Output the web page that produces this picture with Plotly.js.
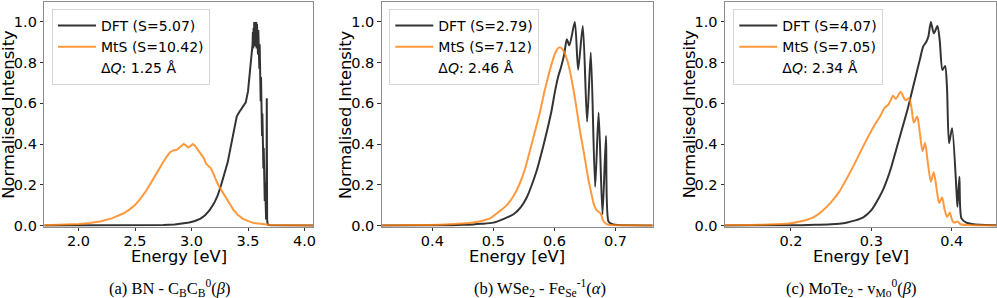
<!DOCTYPE html>
<html>
<head>
<meta charset="utf-8">
<script src="https://cdn.plot.ly/plotly-3.0.1.min.js"></script>
<style>html,body{margin:0;padding:0;background:#fff;}#chart{width:997px;height:298px;}</style>
</head>
<body>
<div id="chart"></div>
<script>
// ---------- Panel (a): BN - CBCB0(beta) ----------
const aDftEnergy = [1.697, 2.4, 2.6, 2.75, 2.85, 2.92, 2.98, 3.03, 3.08, 3.12, 3.16, 3.2, 3.23, 3.26, 3.29, 3.32, 3.35, 3.38, 3.4, 3.42, 3.44, 3.46, 3.48, 3.5, 3.51, 3.52, 3.53,
  3.54, 3.543, 3.546, 3.549, 3.552, 3.555, 3.558, 3.561, 3.564, 3.567, 3.57, 3.573, 3.576, 3.579, 3.582, 3.585, 3.588, 3.591, 3.594, 3.597,
  3.6, 3.603, 3.606, 3.609, 3.612, 3.615, 3.618, 3.621, 3.624, 3.627, 3.63, 3.633, 3.636, 3.639, 3.642, 3.645, 3.648, 3.651, 3.654, 3.657,
  3.66, 3.663, 3.666, 3.669, 3.673, 3.68, 3.7, 4.075];
const aDftIntensity = [0, 0.0005, 0.001, 0.002, 0.005, 0.009, 0.015, 0.022, 0.034, 0.05, 0.075, 0.11, 0.145, 0.195, 0.25, 0.31, 0.395, 0.49, 0.535, 0.555, 0.57, 0.585, 0.605, 0.66, 0.71, 0.77, 0.83,
  0.89, 0.95, 0.87, 0.97, 0.9, 1.0, 0.89, 1.0, 0.88, 0.99, 0.87, 1.0, 0.87, 0.99, 0.86, 0.98, 0.84, 0.96, 0.81, 0.93,
  0.77, 0.89, 0.7, 0.82, 0.61, 0.73, 0.52, 0.64, 0.44, 0.55, 0.36, 0.47, 0.28, 0.38, 0.2, 0.3, 0.12, 0.21, 0.06, 0.13,
  0.03, 0.07, 0.625, 0.03, 0.008, 0.003, 0.001, 0];
const aMtsEnergy = [1.697, 1.8, 1.9, 2.0, 2.1, 2.2, 2.3, 2.4, 2.45, 2.5, 2.55, 2.6, 2.65, 2.7, 2.75, 2.78, 2.81, 2.84, 2.87, 2.9, 2.93, 2.95, 2.97, 2.99, 3.01, 3.03, 3.05, 3.07, 3.09, 3.11, 3.13, 3.15, 3.17, 3.19, 3.21, 3.23, 3.25, 3.27, 3.29, 3.31, 3.33, 3.35, 3.37, 3.39, 3.41, 3.43, 3.45, 3.47, 3.49, 3.52, 3.55, 3.58, 3.61, 3.64, 3.7, 4.075];
const aMtsIntensity = [0.001, 0.002, 0.004, 0.007, 0.012, 0.021, 0.036, 0.06, 0.078, 0.1, 0.133, 0.172, 0.218, 0.268, 0.312, 0.338, 0.36, 0.369, 0.372, 0.386, 0.4, 0.394, 0.383, 0.39, 0.4, 0.392, 0.376, 0.362, 0.35, 0.33, 0.302, 0.29, 0.282, 0.26, 0.232, 0.206, 0.186, 0.168, 0.146, 0.126, 0.112, 0.09, 0.078, 0.065, 0.051, 0.044, 0.034, 0.029, 0.023, 0.018, 0.012, 0.01, 0.006, 0.004, 0.002, 0];

// ---------- Panel (b): WSe2 - FeSe-1(alpha) ----------
const bDftEnergy = [0.317, 0.42, 0.45, 0.467, 0.48, 0.5, 0.515, 0.533, 0.545, 0.555, 0.563, 0.571, 0.58, 0.5875, 0.595, 0.601, 0.606, 0.611, 0.616, 0.6203, 0.6245, 0.6334, 0.6388, 0.6465, 0.6535, 0.6596, 0.6667, 0.6724, 0.6787, 0.6845, 0.6885, 0.694, 0.7, 0.72, 0.761];
const bDftIntensity = [0, 0.001, 0.003, 0.005, 0.008, 0.014, 0.03, 0.055, 0.09, 0.14, 0.2, 0.27, 0.37, 0.46, 0.56, 0.66, 0.73, 0.78, 0.84, 0.915, 0.885, 1.0, 0.765, 0.98, 0.51, 0.85, 0.19, 0.555, 0.055, 0.44, 0.02, 0.008, 0.004, 0.001, 0];
const bMtsEnergy = [0.317, 0.38, 0.42, 0.45, 0.467, 0.48, 0.4945, 0.51, 0.522, 0.533, 0.5437, 0.552, 0.56, 0.568, 0.5765, 0.583, 0.59, 0.596, 0.601, 0.6055, 0.609, 0.6147, 0.619, 0.623, 0.627, 0.631, 0.635, 0.639, 0.643, 0.6475, 0.6515, 0.6557, 0.66, 0.664, 0.668, 0.672, 0.676, 0.679, 0.682, 0.686, 0.692, 0.72, 0.761];
const bMtsIntensity = [0, 0.002, 0.005, 0.01, 0.015, 0.022, 0.035, 0.07, 0.1, 0.145, 0.21, 0.28, 0.37, 0.46, 0.56, 0.65, 0.735, 0.8, 0.845, 0.87, 0.876, 0.86, 0.83, 0.79, 0.735, 0.67, 0.6, 0.52, 0.445, 0.37, 0.3, 0.225, 0.165, 0.11, 0.08, 0.068, 0.058, 0.03, 0.015, 0.006, 0.002, 0.001, 0];

// ---------- Panel (c): MoTe2 - vMo0(beta) ----------
const cDftEnergy = [0.118, 0.2, 0.23, 0.25, 0.26, 0.27, 0.28, 0.29, 0.3, 0.31, 0.315, 0.32, 0.325, 0.33, 0.335, 0.34, 0.345, 0.35, 0.355, 0.36, 0.3645, 0.368, 0.371, 0.374, 0.3777, 0.3822, 0.385, 0.3884, 0.3917, 0.394, 0.3966, 0.4004, 0.4058, 0.4071, 0.4095, 0.412, 0.418, 0.425, 0.435, 0.455];
const cDftIntensity = [0, 0.001, 0.003, 0.006, 0.009, 0.015, 0.025, 0.04, 0.075, 0.14, 0.18, 0.23, 0.29, 0.36, 0.43, 0.5, 0.57, 0.65, 0.73, 0.81, 0.88, 0.9, 0.93, 1.0, 0.944, 0.98, 0.91, 0.764, 0.784, 0.682, 0.404, 0.478, 0.174, 0.092, 0.24, 0.035, 0.014, 0.007, 0.003, 0.001];
const cMtsEnergy = [0.118, 0.16, 0.18, 0.2, 0.21, 0.22, 0.23, 0.24, 0.25, 0.26, 0.27, 0.28, 0.29, 0.3, 0.305, 0.31, 0.3168, 0.3209, 0.324, 0.327, 0.3304, 0.3335, 0.3365, 0.3395, 0.3425, 0.347, 0.35, 0.3528, 0.357, 0.3603, 0.3636, 0.3668, 0.3705, 0.374, 0.3776, 0.381, 0.3843, 0.388, 0.391, 0.3942, 0.3975, 0.4003, 0.403, 0.407, 0.411, 0.42, 0.455];
const cMtsIntensity = [0.001, 0.003, 0.006, 0.011, 0.018, 0.028, 0.045, 0.075, 0.115, 0.165, 0.235, 0.31, 0.39, 0.465, 0.5, 0.53, 0.58, 0.592, 0.615, 0.638, 0.622, 0.64, 0.657, 0.635, 0.615, 0.625, 0.575, 0.505, 0.535, 0.455, 0.365, 0.405, 0.3, 0.215, 0.262, 0.185, 0.11, 0.138, 0.08, 0.042, 0.062, 0.028, 0.013, 0.02, 0.006, 0.002, 0];

// ---------- Labels ----------
const dftNames = ['DFT (S=5.07)', 'DFT (S=2.79)', 'DFT (S=4.07)'];
const mtsNames = ['MtS (S=10.42)', 'MtS (S=7.12)', 'MtS (S=7.05)'];
const deltaQ = ['Δ<i>Q</i>: 1.25 Å', 'Δ<i>Q</i>: 2.46 Å', 'Δ<i>Q</i>: 2.34 Å'];
const captions = ['(a) BN - C<sub>B</sub>C<sub>B</sub><sup>0</sup>(<i>β</i>)',
                  '(b) WSe<sub>2</sub> - Fe<sub>Se</sub><sup>-1</sup>(<i>α</i>)',
                  '(c) MoTe<sub>2</sub> - v<sub>Mo</sub><sup>0</sup>(<i>β</i>)'];
const xRanges = [[1.697, 4.075], [0.317, 0.761], [0.118, 0.455]];
const xDticks = [0.5, 0.1, 0.1];
const yTitle = 'Normalised Intensity';
const xTitle = 'Energy [eV]';

const W = 997, H = 298;
const DFT_COLOR = 'rgba(0,0,0,0.8)';
const MTS_COLOR = 'rgba(255,127,14,0.8)';
const FONT = 'DejaVu Sans, sans-serif';

const panelPx = [[44.3, 313], [381.7, 652.7], [725, 996]];
const topPx = 2, botPx = 226.7;
const legendLeftPx = [52, 389.3, 733.3];
const captionRightPx = [233, 608, 918];

const data = [
  {x: aDftEnergy, y: aDftIntensity}, {x: aMtsEnergy, y: aMtsIntensity},
  {x: bDftEnergy, y: bDftIntensity}, {x: bMtsEnergy, y: bMtsIntensity},
  {x: cDftEnergy, y: cDftIntensity}, {x: cMtsEnergy, y: cMtsIntensity}
];

const traces = [];
const layout = {
  width: W, height: H,
  margin: {l: 0, r: 0, t: 0, b: 0},
  paper_bgcolor: '#ffffff', plot_bgcolor: '#ffffff',
  font: {family: FONT, size: 14.3, color: '#000'},
  showlegend: true,
  annotations: []
};

for (let i = 0; i < 3; i++) {
  const sfx = i === 0 ? '' : String(i + 1);
  const xa = 'x' + sfx, ya = 'y' + sfx;
  const leg = 'legend' + sfx;
  const shp = i === 0 ? 'linear' : 'spline';
  traces.push({x: data[2*i].x, y: data[2*i].y, xaxis: xa, yaxis: ya, legend: leg, type: 'scatter', mode: 'lines',
               name: dftNames[i], line: {color: DFT_COLOR, width: 2, shape: shp, smoothing: 0.7}});
  traces.push({x: data[2*i+1].x, y: data[2*i+1].y, xaxis: xa, yaxis: ya, legend: leg, type: 'scatter', mode: 'lines',
               name: mtsNames[i], line: {color: MTS_COLOR, width: 2, shape: shp, smoothing: 0.7}});
  traces.push({x: [null], y: [null], xaxis: xa, yaxis: ya, legend: leg, type: 'scatter', mode: 'lines',
               name: deltaQ[i], line: {color: 'rgba(0,0,0,0)', width: 0}, hoverinfo: 'skip'});

  const [lp, rp] = panelPx[i];
  layout['xaxis' + sfx] = {
    domain: [lp / W, rp / W], anchor: ya, range: xRanges[i], dtick: xDticks[i], tick0: 0,
    tickformat: '.1f', ticks: 'outside', ticklen: 3.5, tickwidth: 1, tickcolor: '#333', ticklabelstandoff: -3,
    showline: true, mirror: true, linecolor: '#8c8c8c', linewidth: 1,
    showgrid: false, zeroline: false, tickfont: {family: FONT, size: 14.5, color: '#000'}
  };
  layout['yaxis' + sfx] = {
    domain: [1 - botPx / H, 1 - topPx / H], anchor: xa, range: [-0.006, 1.098], dtick: 0.2, tick0: 0,
    tickformat: '.1f', ticks: 'outside', ticklen: 3.5, tickwidth: 1, tickcolor: '#333',
    showline: true, mirror: true, linecolor: '#8c8c8c', linewidth: 1,
    showgrid: false, zeroline: false, tickfont: {family: FONT, size: 14.5, color: '#000'}
  };
  layout[leg] = {
    x: legendLeftPx[i] / W, y: 1 - 9 / H, xanchor: 'left', yanchor: 'top',
    bgcolor: 'rgba(255,255,255,0.8)', bordercolor: '#d4d4d4', borderwidth: 1,
    font: {family: FONT, size: 14, color: '#000'}, itemwidth: 38, traceorder: 'normal', tracegroupgap: 0
  };
  layout.annotations.push({text: yTitle, xref: 'paper', yref: 'paper', x: (lp - 36) / W, y: 1 - ((topPx + botPx) / 2) / H,
    xanchor: 'center', yanchor: 'middle', textangle: -90, showarrow: false, font: {family: FONT, size: 16.3, color: '#000'}});
  layout.annotations.push({text: xTitle, xref: 'paper', yref: 'paper', x: ((lp + rp) / 2) / W, y: 1 - 256 / H,
    xanchor: 'center', yanchor: 'middle', showarrow: false, font: {family: FONT, size: 16.3, color: '#000'}});
  layout.annotations.push({text: captions[i], xref: 'paper', yref: 'paper', x: captionRightPx[i] / W, y: 1 - 287.5 / H,
    xanchor: 'right', yanchor: 'middle', showarrow: false, font: {family: 'Liberation Serif, serif', size: 16.5, color: '#000'}});
}

Plotly.newPlot('chart', traces, layout, {staticPlot: true, displayModeBar: false});
</script>
</body>
</html>
